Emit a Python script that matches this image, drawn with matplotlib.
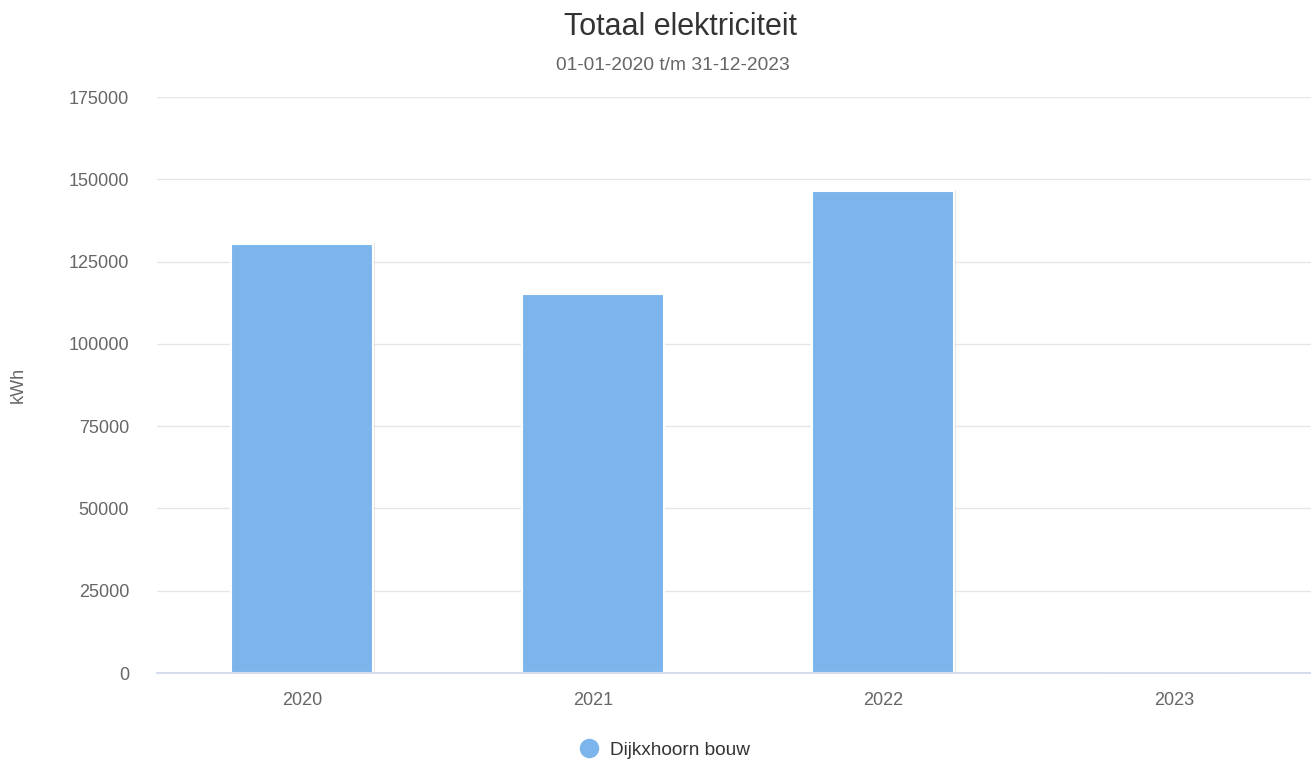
import matplotlib.pyplot as plt
import matplotlib.patheffects as pe
import numpy as np

# data
jaren = ['2020', '2021', '2022', '2023']
verbruik = [130300, 115100, 146400, 0]   # kWh
serie_naam = 'Dijkxhoorn bouw'
yticks = [0, 25000, 50000, 75000, 100000, 125000, 150000, 175000]

plt.rcParams['font.family'] = ['Liberation Sans', 'DejaVu Sans']

fig = plt.figure(figsize=(13.11, 7.6), dpi=100)
ax = fig.add_axes([157/1311, 1 - 673/760, (1319 - 157)/1311, (673 - 97)/760])

x = np.arange(len(jaren))
bars = ax.bar(x, verbruik, width=0.49, color='#7cb5ec', edgecolor='white',
              linewidth=1.5, zorder=3, label=serie_naam)
for b in bars:
    b.set_path_effects([pe.SimplePatchShadow(offset=(1, 1), shadow_rgbFace='#999999', alpha=0.25),
                        pe.Normal()])

ax.set_xlim(-0.5, 3.5)
ax.set_ylim(0, 175000)
ax.set_yticks(yticks)
ax.set_yticklabels([str(v) for v in yticks])
ax.set_xticks(x)
ax.set_xticklabels(jaren)
ax.tick_params(length=0, labelsize=13, colors='#666666')
ax.tick_params(axis='y', pad=20)
ax.tick_params(axis='x', pad=14)
ax.grid(axis='y', color='#e6e6e6', linewidth=1, zorder=0)
for s in ['top', 'right', 'left']:
    ax.spines[s].set_visible(False)
ax.spines['bottom'].set_color('#ccd6eb')
ax.spines['bottom'].set_linewidth(1.2)
ax.spines['bottom'].set_zorder(4)

fig.text(18/1311, 1 - 385/760, 'kWh', rotation=90, ha='center', va='center',
         fontsize=13, color='#666666')

fig.text(681/1311, 1 - 27/760, 'Totaal elektriciteit', ha='center', va='center',
         fontsize=22, color='#333333')
fig.text(673/1311, 1 - 65/760, '01-01-2020 t/m 31-12-2023', ha='center', va='center',
         fontsize=13.8, color='#666666')

leg = fig.legend(handles=[plt.Line2D([], [], marker='o', linestyle='', markersize=13,
                                     color='#7cb5ec')],
                 labels=[serie_naam], loc='center', bbox_to_anchor=(664/1311, 1 - 750/760),
                 frameon=False, fontsize=13.7, handletextpad=0.5, handlelength=1.2)
for t in leg.get_texts():
    t.set_color('#333333')

fig.savefig('out.png', dpi=100)
